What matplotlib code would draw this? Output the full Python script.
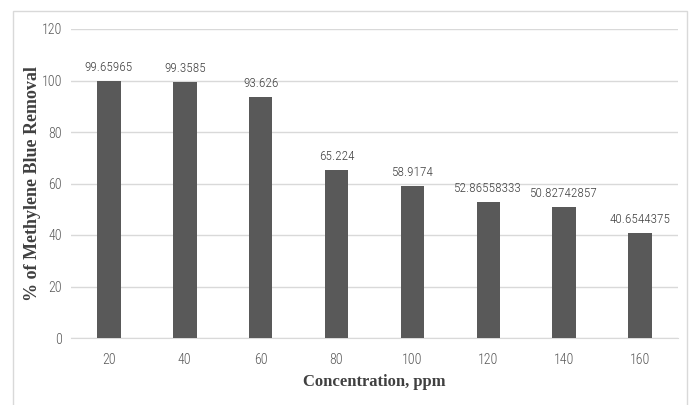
import matplotlib
matplotlib.use("Agg")
import matplotlib.pyplot as plt
from matplotlib.patches import Rectangle

concentrations = ["20", "40", "60", "80", "100", "120", "140", "160"]
removal = [99.65965, 99.3585, 93.626, 65.224, 58.9174, 52.86558333, 50.82742857, 40.6544375]
value_labels = ["99.65965", "99.3585", "93.626", "65.224", "58.9174",
                "52.86558333", "50.82742857", "40.6544375"]
y_ticks = [0, 20, 40, 60, 80, 100, 120]

tick_font = ["Roboto Condensed", "Liberation Sans", "DejaVu Sans"]
label_font = ["Liberation Serif", "DejaVu Serif"]
text_gray = "#595959"

fig = plt.figure(figsize=(6.92, 4.05), dpi=100)
fig.patches.append(Rectangle((13 / 692, -0.05), (687 - 13) / 692, (405 - 11) / 405 + 0.05,
                             transform=fig.transFigure, fill=False,
                             edgecolor="#d9d9d9", linewidth=1.0, zorder=0))

ax = fig.add_axes([71 / 692, (405 - 338) / 405, (678 - 71) / 692, (338 - 29) / 405])
x = range(len(concentrations))
ax.bar(x, removal, width=0.31, color="#595959", zorder=3)

for xi, v, lab in zip(x, removal, value_labels):
    ax.annotate(lab, (xi, v), xytext=(0, 5), textcoords="offset points",
                ha="center", va="bottom", fontsize=9.5, fontweight="light",
                color="#404040", family=tick_font)

ax.set_xlim(-0.5, len(concentrations) - 0.5)
ax.set_ylim(0, 120)
ax.set_yticks(y_ticks)
ax.set_xticks(list(x))
ax.set_xticklabels(concentrations)
ax.yaxis.grid(True, color="#d9d9d9", linewidth=1.0, zorder=0)
ax.set_axisbelow(True)
for s in ["top", "right", "left"]:
    ax.spines[s].set_visible(False)
ax.spines["bottom"].set_color("#d9d9d9")
ax.tick_params(axis="both", length=0, labelsize=10, labelcolor=text_gray)
ax.tick_params(axis="x", pad=11)
ax.tick_params(axis="y", pad=6.5)
for t in ax.get_xticklabels() + ax.get_yticklabels():
    t.set_family(tick_font)
    t.set_fontweight("light")

ax.set_xlabel("Concentration, ppm", fontsize=12, fontweight="bold",
              family=label_font, color="#404040")
ax.set_ylabel("% of Methylene Blue Removal", fontsize=13, fontweight="bold",
              family=label_font, color="#404040")
ax.xaxis.set_label_coords(0.5, -0.115)
ax.yaxis.set_label_coords(-0.05, 0.5)

fig.savefig("out.png", dpi=100)
